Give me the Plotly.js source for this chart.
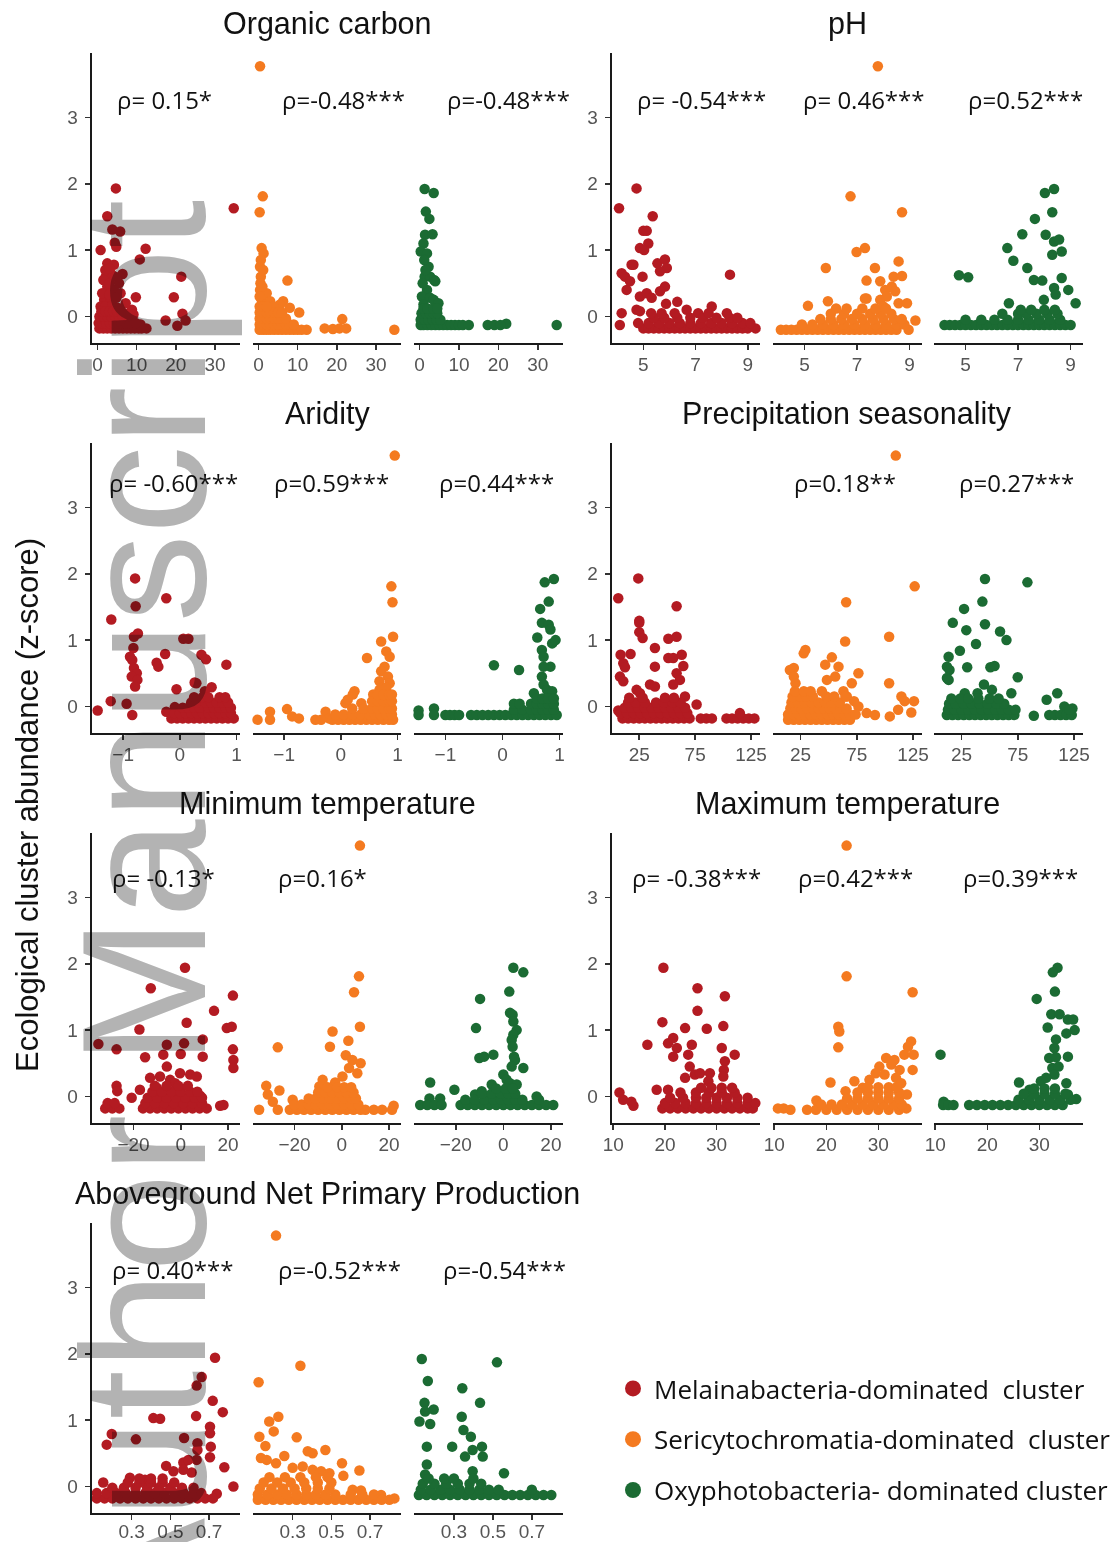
<!DOCTYPE html>
<html><head><meta charset="utf-8">
<script src="https://cdn.plot.ly/plotly-3.0.1.min.js"></script>
<style>
html,body{margin:0;padding:0;background:#fff;}
#chart{width:1116px;height:1542px;}
.svg-container > svg.main-svg:not(:first-of-type){mix-blend-mode:multiply;}
</style>
</head><body><div id="chart"></div>
<script>
// ---------------- data ----------------
const CLUSTERS = ['Melainabacteria-dominated  cluster','Sericytochromatia-dominated  cluster','Oxyphotobacteria- dominated cluster'];
const COLORS = ['#B31B22','#F47A20','#1B6B33'];
const PANEL_TITLES = ['Organic carbon','pH','Aridity','Precipitation seasonality','Minimum temperature','Maximum temperature','Aboveground Net Primary Production'];
const TICKS = [[0,10,20,30],[5,7,9],[-1,0,1],[25,75,125],[-20,0,20],[10,20,30],[0.3,0.5,0.7]];
const Y_TICKS = [0,1,2,3];
const RHO = [
 ['ρ= 0.15*','ρ=-0.48***','ρ=-0.48***'],
 ['ρ= -0.54***','ρ= 0.46***','ρ=0.52***'],
 ['ρ= -0.60***','ρ=0.59***','ρ=0.44***'],
 ['','ρ=0.18**','ρ=0.27***'],
 ['ρ= -0.13*','ρ=0.16*',''],
 ['ρ= -0.38***','ρ=0.42***','ρ=0.39***'],
 ['ρ= 0.40***','ρ=-0.52***','ρ=-0.54***']];

// Organic carbon
const OC_MEL = [[4.7,1.93],[2.5,1.51],[3.8,1.31],[5.8,1.28],[4.4,1.11],[4.8,1.05],[0.8,1.0],[12.3,1.02],[10.8,0.86],[34.8,1.63],[21.4,0.6],[9.8,0.29],[19.5,0.29],[17.4,-0.06],[21.7,0.04],[22.5,-0.06],[20.4,-0.14],[8.8,0.1],[9.2,0.03],[2.5,0.8],[4.2,0.78],[3.4,0.65],[2.1,0.6],[6.4,0.64],[5.5,0.5],[2.5,0.45],[4.2,0.4],[5.9,0.35],[1.7,0.25],[3.4,0.23],[7.2,0.2],[0.8,0.15],[5.1,0.13],[2,0.7],[3,0.72],[1.5,0.55],[3,0.5],[4.5,0.6],[1.2,0.35],[3,0.33],[2,0.15],[3.8,0.17],[4.8,0.28],[6.8,0.05],[12.5,-0.18],[11,-0.12]];
const OC_MEL_LOW = [[-0.18,[0.5,1.5,2.5,3.5,4.5,5.5,6.5,7.5,8.5,9.5,10.5,11.3]],[-0.1,[0.3,1.2,2.2,3.2,4.2,5.2,6.2,7.2,8.2,9.8]],[0,[0.5,1.5,2.5,3.5,4.5,5.5,6.5,7.5]],[0.08,[1,2,3,4,5,6]]];
const OC_SER = [[0.4,3.77],[1.1,1.81],[0.3,1.57],[0.8,1.03],[1.3,0.95],[0.4,0.75],[0.6,0.6],[7.4,0.54],[0.4,0.4],[2.1,0.35],[0.8,0.25],[3.0,0.23],[6.3,0.23],[5.5,0.18],[3.8,0.15],[8.0,0.13],[10.4,0.06],[21.4,-0.04],[34.7,-0.2],[16.9,-0.18],[19,-0.19],[20.7,-0.18],[22.4,-0.18],[12.3,-0.2],[0.5,0.5],[1.0,0.45],[0.6,0.85],[1.2,0.7],[0.3,0.3]];
const OC_SER_LOW = [[-0.2,[0.3,1.2,2.1,3,4,5,6,7,8,9,10,11]],[-0.12,[0.3,1.2,2.1,3,4,5,6,7,8,9]],[-0.03,[0.3,1.2,2.1,3,4,5,6,7]],[0.06,[0.3,1.2,2.1,3,4,5,6]],[0.15,[0.3,1.2,2.1]]];
const OC_OXY = [[1.3,1.92],[3.6,1.86],[1.6,1.58],[2.5,1.47],[1.4,1.23],[3.3,1.24],[1.0,1.1],[0.3,0.98],[1.9,0.95],[2.3,0.75],[1.3,0.6],[2.7,0.6],[3.7,0.55],[4.0,0.53],[1.9,0.4],[0.6,0.3],[2.7,0.28],[3.6,0.25],[4.8,0.2],[1.0,0.18],[1.2,0.85],[1.5,0.7],[0.8,0.5],[22,-0.11]];
const OC_OXY_LOW = [[-0.13,[0.3,1,2,3,4,5,6,7,8,9,10,11,12.5,17.3,19,20.5,34.8]],[-0.05,[0.3,1.3,2.3,3.3,4.3,5.3]],[0.05,[0.5,1.5,2.5,3.5,4.5]],[0.12,[1,2,3.5,4.5]]];

// pH
const PH_MEL = [[4.74,1.93],[4.07,1.63],[5.36,1.51],[5.0,1.29],[5.13,1.29],[5.19,1.1],[4.87,1.03],[5.03,1.0],[4.62,0.78],[4.55,0.78],[4.17,0.65],[4.3,0.6],[4.49,0.53],[4.36,0.4],[5.54,0.8],[5.83,0.86],[5.9,0.73],[5.64,0.68],[4.97,0.6],[5.83,0.45],[8.32,0.63],[4.87,0.3],[5.13,0.35],[5.32,0.28],[5.64,0.38],[6.3,0.22],[5.87,0.19],[4.17,0.05],[4.1,-0.13],[4.74,0.1],[4.87,0.08],[7.62,0.15],[6.66,0.1],[7.1,0.05]];
const PH_MEL_LOW = [[-0.18,[5.0,5.2,5.4,5.6,5.8,6.0,6.2,6.4,6.6,6.8,7.0,7.2,7.4,7.6,7.8,8.0,8.2,8.4,8.6,8.8,9.0,9.3]],[-0.1,[4.8,5.2,5.6,6.0,6.4,6.8,7.2,7.6,8.0,8.4,8.8,9.1]],[-0.02,[5.4,5.8,6.3,6.8,7.3,7.8,8.3,8.6]],[0.05,[5.3,5.7,6.2,7.5,8.2]]];
const PH_SER = [[7.79,3.77],[6.75,1.81],[8.71,1.57],[7.3,1.03],[6.98,0.97],[5.81,0.73],[7.68,0.73],[8.58,0.83],[7.36,0.54],[8.39,0.6],[8.71,0.61],[7.88,0.53],[8.07,0.4],[8.32,0.45],[8.45,0.38],[7.36,0.27],[7.3,0.27],[8.58,0.2],[8.9,0.2],[7.88,0.25],[8.0,0.15],[8.13,0.3],[5.13,0.16],[5.89,0.23],[9.22,-0.06],[8.96,-0.2]];
const PH_SER_LOW = [[-0.2,[4.1,4.3,4.5,4.7,4.9,5.1,5.3,5.5,5.7,5.9,6.1,6.3,6.5,6.7,6.9,7.1,7.3,7.5,7.7,7.9,8.1,8.3,8.5]],[-0.12,[4.9,5.3,5.7,6.1,6.5,6.9,7.3,7.7,8.1,8.5,8.8]],[-0.04,[5.6,6.0,6.4,6.8,7.2,7.6,8.0,8.4,8.7]],[0.04,[6.0,6.5,7.0,7.5,7.9,8.3]],[0.12,[6.2,6.6,7.2,7.7,8.1]]];
const PH_OXY = [[8.37,1.92],[8.02,1.86],[8.3,1.57],[7.64,1.47],[7.16,1.24],[8.05,1.23],[6.59,1.03],[8.37,1.13],[8.56,1.16],[8.3,0.93],[8.66,0.98],[6.82,0.84],[7.35,0.73],[4.75,0.62],[5.1,0.59],[7.6,0.55],[7.92,0.54],[8.66,0.58],[8.37,0.43],[8.91,0.4],[6.65,0.2],[9.19,0.2],[8.43,0.33],[7.98,0.25]];
const PH_OXY_LOW = [[-0.13,[4.2,4.4,4.6,4.8,5.0,5.2,5.4,5.6,5.8,6.0,6.2,6.4,6.6,6.8,7.0,7.2,7.4,7.6,7.8,8.0,8.2,8.4,8.6,8.8,9.0]],[-0.05,[5.0,5.6,6.1,6.6,7.0,7.4,7.8,8.2,8.6]],[0.04,[6.4,7.0,7.3,7.7,8.1,8.5]],[0.1,[7.1,7.5,8.0,8.4]]];

// Aridity
const AR_MEL = [[-0.79,1.93],[-0.78,1.51],[-0.24,1.63],[-1.21,1.31],[-0.74,1.1],[-0.81,1.05],[0.06,1.02],[0.15,1.02],[-0.82,0.88],[-0.26,0.79],[-0.88,0.75],[-0.84,0.7],[0.38,0.78],[0.46,0.71],[-0.41,0.66],[-0.38,0.6],[0.82,0.63],[-0.81,0.58],[-0.76,0.5],[-0.85,0.45],[-0.75,0.4],[-0.79,0.3],[-0.06,0.26],[0.56,0.29],[0.44,0.23],[0.29,0.35],[0.26,0.36],[-1.22,0.08],[-0.94,0.04],[-1.45,-0.06],[-0.84,-0.13],[-0.24,-0.08],[-0.09,-0.01]];
const AR_MEL_LOW = [[-0.18,[-0.15,-0.05,0.05,0.15,0.25,0.35,0.45,0.55,0.65,0.75,0.85,0.95]],[-0.1,[-0.1,0.0,0.1,0.2,0.3,0.4,0.5,0.6,0.7,0.8,0.9]],[-0.02,[0.05,0.15,0.25,0.35,0.5,0.6,0.7,0.8,0.9]],[0.06,[0.2,0.3,0.45,0.55,0.65,0.75,0.85]],[0.14,[0.25,0.4,0.5,0.7,0.8]]];
const AR_SER = [[0.95,3.78],[0.89,1.81],[0.91,1.57],[0.92,1.05],[0.71,0.98],[0.8,0.83],[0.86,0.75],[0.46,0.73],[0.77,0.6],[0.71,0.53],[0.83,0.45],[0.68,0.38],[0.86,0.35],[0.24,0.23],[0.21,0.18],[0.68,0.25],[0.57,0.18],[0.08,0.05],[0.12,0.1],[0.36,0.05],[-1.47,-0.2],[-1.25,-0.2],[-1.25,-0.08],[-0.95,-0.04],[-0.86,-0.15],[-0.74,-0.18],[-0.45,-0.2],[-0.27,-0.08],[-0.21,-0.18],[0.72,0.28],[0.8,0.28]];
const AR_SER_LOW = [[-0.2,[-0.35,-0.15,-0.05,0.05,0.15,0.25,0.35,0.45,0.55,0.65,0.75,0.85,0.92]],[-0.12,[-0.1,0.05,0.2,0.35,0.5,0.6,0.7,0.8,0.9]],[-0.03,[0.2,0.4,0.55,0.65,0.75,0.85,0.9]],[0.08,[0.55,0.65,0.75,0.85,0.9]],[0.18,[0.65,0.75,0.85,0.9]]];
const AR_OXY = [[0.9,1.92],[0.74,1.87],[0.81,1.58],[0.66,1.47],[0.69,1.26],[0.81,1.23],[0.84,1.16],[0.61,1.04],[0.87,0.95],[0.93,1.0],[0.69,0.85],[0.72,0.75],[0.84,0.6],[0.72,0.6],[-0.15,0.62],[0.29,0.55],[0.69,0.45],[0.72,0.33],[0.78,0.25],[0.55,0.2],[0.87,0.23],[-1.47,-0.06],[-1.2,-0.03]];
const AR_OXY_LOW = [[-0.13,[-1.47,-1.2,-1.0,-0.92,-0.84,-0.76,-0.55,-0.45,-0.35,-0.25,-0.15,-0.05,0.05,0.15,0.25,0.35,0.45,0.55,0.65,0.75,0.85,0.95]],[-0.05,[0.2,0.35,0.5,0.6,0.7,0.8,0.9]],[0.04,[0.2,0.3,0.5,0.6,0.7,0.8,0.9]],[0.12,[0.6,0.7,0.8,0.9]]];

// Precipitation seasonality
const PS_MEL = [[24.1,1.93],[6.2,1.63],[58.4,1.51],[25,1.29],[25,1.26],[25,1.12],[28,1.03],[51,1.02],[58.4,1.05],[8.3,0.78],[17.2,0.79],[39,0.88],[51,0.73],[55.4,0.73],[63,0.78],[10.7,0.65],[12.2,0.59],[39,0.6],[64.4,0.61],[7.7,0.45],[10.7,0.38],[34.6,0.33],[39,0.3],[58.4,0.5],[61.4,0.4],[55.4,0.33],[22.6,0.25],[25.6,0.2],[65.9,0.15],[76.3,0.03],[6.2,-0.06]];
const PS_MEL_LOW = [[-0.18,[10,15,20,25,30,35,40,45,50,55,60,65,70,80,85,90,103,108,113,118,123,128]],[-0.1,[8,14,20,26,32,38,44,50,56,62,68,115]],[-0.02,[12,18,24,30,36,42,48,54,60,66]],[0.06,[15,22,30,40,47,55,62]],[0.13,[16,28,48,56]]];
const PS_SER = [[109.7,3.78],[126.5,1.81],[65.6,1.57],[103.8,1.05],[64.7,0.98],[27.9,0.8],[29.4,0.85],[15.6,0.55],[19.1,0.58],[52.9,0.74],[47,0.63],[58.8,0.6],[55.9,0.45],[76.5,0.5],[70.6,0.35],[48.5,0.4],[19.1,0.45],[20.6,0.35],[103.8,0.35],[114.7,0.15],[117.6,0.08],[125.9,0.08],[111.8,-0.05],[123.5,-0.09],[104.4,-0.15],[83.8,-0.1],[91.2,-0.13],[63.2,0.23],[66.2,0.15],[76.5,0],[72.6,0.08]];
const PS_SER_LOW = [[-0.2,[14,19,24,29,34,39,44,49,54,59,64,69]],[-0.12,[14,19,24,29,34,39,44,49,54,59,64,69,74]],[-0.03,[16,21,26,31,36,41,46,51,56,61,66]],[0.06,[17,23,29,35,41,47,53,60]],[0.15,[18,25,30,36,48,55,65]],[0.23,[20,28,34,44]]];
const PS_OXY = [[45.9,1.92],[83.6,1.87],[43.6,1.58],[27.3,1.47],[17.3,1.26],[45.9,1.24],[29.3,1.15],[59.3,1.13],[65,1.0],[23.6,0.84],[37.9,0.94],[13.6,0.75],[12.1,0.6],[30.1,0.59],[50.7,0.59],[54.4,0.61],[14.4,0.55],[12.1,0.43],[13.6,0.4],[75,0.44],[45,0.33],[52.1,0.25],[69.3,0.2],[39.3,0.2],[27.9,0.2],[100.7,0.1],[110.1,0.2],[89.3,-0.14],[116.4,0],[123.6,-0.03]];
const PS_OXY_LOW = [[-0.13,[12,17,22,27,32,37,42,47,52,57,62,67,72,103,108,113,118,123]],[-0.05,[13,19,25,31,37,43,49,55,61,67,73,121]],[0.04,[14,20,27,34,41,48,56,63]],[0.12,[16,24,31,40,50,58]]];

// Minimum temperature
const MN_MEL = [[1.8,1.94],[-12.7,1.63],[22.1,1.52],[14.1,1.29],[-17.5,1.01],[2.5,1.11],[19.5,1.03],[21.6,1.05],[-34.9,0.79],[-27.2,0.71],[-5.9,0.78],[1.4,0.8],[9.3,0.86],[-15.1,0.59],[-7.4,0.63],[0,0.64],[9.3,0.6],[22.1,0.71],[22.3,0.55],[22.3,0.43],[-5.9,0.45],[-4.5,0.25],[-8.8,0.3],[-13,0.28],[-0.3,0.35],[4,0.33],[6.8,0.3],[-2.4,0.2],[-27.2,0.16],[-26.9,0.08],[-20.8,-0.02],[8.2,0.01],[-17.3,0.1],[-10.2,0.13],[16.7,-0.14],[18.1,-0.13]];
const MN_MEL_LOW = [[-0.18,[-32,-29,-26,-16,-13,-10,-7,-4,-1,2,5,8,11]],[-0.1,[-31,-28,-15,-11,-7,-3,1,5,9]],[-0.02,[-14,-10,-6,-2,2,6,9]],[0.07,[-12,-8,-4,0,4,7]],[0.16,[-11,-6,-1,3]]];
const MN_SER = [[7.7,3.78],[7.3,1.81],[5.2,1.57],[7.7,1.05],[-27.1,0.74],[-3.9,0.98],[-5,0.75],[2.8,0.84],[1.7,0.62],[4.5,0.55],[8,0.5],[3.1,0.43],[6.6,0.35],[0.3,0.3],[-2.8,0.21],[-8.1,0.25],[-9.5,0.15],[-32,0.16],[-26.4,0.09],[-31.3,0.03],[-35,-0.2],[-27.1,-0.2],[-29.2,-0.08],[-20.8,-0.05],[13.6,-0.2],[17.1,-0.2],[21.3,-0.2],[22,-0.14]];
const MN_SER_LOW = [[-0.2,[-22,-19,-16,-13,-10,-7,-4,-1,2,5,8,10]],[-0.12,[-20,-17,-14,-11,-8,-5,-2,1,4,7]],[-0.03,[-14,-11,-8,-5,-2,1,4,6]],[0.06,[-10,-7,-4,-1,2,5]],[0.14,[-6,-2,1,4]]];
const MN_OXY = [[4.2,1.94],[8.4,1.87],[2.5,1.58],[-9.8,1.47],[2.8,1.26],[3.9,1.23],[4.2,1.13],[-11.5,1.03],[5.6,1.0],[4.2,0.93],[3.5,0.85],[3.9,0.75],[4.5,0.6],[4.9,0.55],[-10.1,0.58],[-8.1,0.6],[-4.2,0.63],[8.4,0.43],[3.5,0.45],[-30.8,0.21],[-20.6,0.1],[-4.9,0.18],[-9.1,0.08],[0,0.33],[1.4,0.25],[2.8,0.2],[5.6,0.18],[-11.9,0.03],[14,0],[-31.1,-0.03],[-26.6,-0.03]];
const MN_OXY_LOW = [[-0.13,[-35,-32,-29,-26,-18,-15,-12,-9,-6,-3,0,3,6,9,12,15,18,21]],[-0.05,[-16,-12,-8,-4,-1,2,5,8,15]],[0.04,[-9,-5,-1,2,5]],[0.12,[-3,1,4]]];

// Maximum temperature
const MX_MEL = [[19.7,1.94],[26.3,1.63],[31.6,1.51],[26.3,1.29],[19.5,1.12],[23.9,1.03],[28.1,1.02],[31.3,1.06],[16.6,0.78],[20.6,0.8],[21.6,0.88],[22.3,0.73],[25.2,0.78],[24.5,0.63],[31,0.73],[21.6,0.6],[33.5,0.63],[31.6,0.53],[24.8,0.45],[31.4,0.4],[31.3,0.3],[25.8,0.33],[26.8,0.35],[28.7,0.35],[23.9,0.28],[18.4,0.1],[20.6,0.1],[28.4,0.23],[11.2,0.06],[11.9,-0.05],[13.5,-0.08],[13.9,-0.14]];
const MX_MEL_LOW = [[-0.18,[19.5,21,22.5,24,25.5,27,28.5,30,31.5,33,34.5,36,37]],[-0.1,[20,22,24,26,28,30,32,34,36,37.5]],[-0.02,[21,23.5,26,28,30,32,34,36]],[0.06,[23,26,28.5,31,33.5]],[0.13,[27,29,31,33]]];
const MX_SER = [[23.9,3.78],[23.9,1.81],[36.6,1.57],[22.3,1.05],[22.5,0.98],[22.3,0.74],[36.3,0.83],[35.7,0.75],[35,0.63],[36.8,0.63],[36.6,0.4],[31.5,0.58],[33.1,0.55],[30.2,0.45],[32.5,0.48],[34.1,0.4],[29.5,0.35],[31.2,0.33],[33.4,0.28],[34.4,0.2],[20.8,0.21],[25.4,0.23],[27,0.13],[28.3,0.25],[23.7,0.08],[18.1,-0.06],[35.5,0.03],[35.4,-0.18],[10.7,-0.18],[11.8,-0.18],[13.1,-0.2],[16.3,-0.2]];
const MX_SER_LOW = [[-0.2,[18,20,22,24,26,28,30,32,34]],[-0.12,[19,21,23,25,27,29,31,33,34.5]],[-0.03,[24,26,28,30,32,34]],[0.06,[26,28,30,32,34]],[0.14,[28,30,32,33.5]]];
const MX_OXY = [[33.5,1.94],[32.6,1.87],[33,1.58],[29.5,1.47],[32.3,1.24],[33.9,1.24],[35.5,1.16],[36.5,1.16],[36.8,1.0],[35.2,0.95],[31.6,1.04],[33.2,0.86],[32.9,0.73],[31.9,0.58],[33.2,0.59],[35.5,0.6],[11,0.63],[32.5,0.43],[33.7,0.45],[32.9,0.33],[26.1,0.21],[30.3,0.23],[31.3,0.28],[35.2,0.2],[28.1,0.1],[11.6,-0.08],[37.1,-0.04],[35.5,0.03]];
const MX_OXY_LOW = [[-0.13,[11.5,12.5,13.5,16.5,18,19.5,21,22.5,24,25.5,27,28.5,30,31.5,33,34.5]],[-0.05,[26,28,30,32,34,36]],[0.04,[27,29,31,33,35]],[0.12,[29,31,33]]];

// Aboveground net primary production
const NP_MEL = [[0.731,1.94],[0.662,1.65],[0.636,1.52],[0.719,1.29],[0.633,1.06],[0.771,1.12],[0.412,1.03],[0.447,1.02],[0.197,0.79],[0.171,0.63],[0.322,0.71],[0.571,0.73],[0.705,0.9],[0.705,0.8],[0.709,0.6],[0.705,0.44],[0.64,0.65],[0.64,0.55],[0.567,0.36],[0.593,0.4],[0.636,0.4],[0.779,0.29],[0.478,0.31],[0.516,0.23],[0.826,0.0],[0.74,-0.11],[0.153,0.06],[0.291,0.13],[0.369,0.1],[0.567,0.25],[0.61,0.21]];
const NP_MEL_LOW = [[-0.18,[0.12,0.16,0.2,0.24,0.28,0.32,0.36,0.4,0.44,0.48,0.52,0.56,0.6,0.64,0.68,0.72]],[-0.1,[0.12,0.17,0.22,0.27,0.32,0.37,0.42,0.47,0.52,0.57,0.62,0.66]],[-0.02,[0.2,0.26,0.32,0.38,0.44,0.5,0.56,0.62]],[0.06,[0.28,0.34,0.4,0.46,0.52]],[0.12,[0.34,0.4,0.46]]];
const NP_SER = [[0.214,3.78],[0.34,1.82],[0.124,1.57],[0.226,1.05],[0.179,0.98],[0.202,0.83],[0.128,0.75],[0.159,0.61],[0.321,0.74],[0.378,0.53],[0.403,0.5],[0.469,0.55],[0.257,0.46],[0.136,0.43],[0.166,0.4],[0.214,0.35],[0.555,0.35],[0.645,0.24],[0.562,0.16],[0.3,0.28],[0.352,0.3],[0.403,0.25],[0.447,0.23],[0.49,0.2],[0.61,-0.05],[0.653,-0.06],[0.757,-0.13],[0.826,-0.18]];
const NP_SER_LOW = [[-0.2,[0.12,0.16,0.2,0.24,0.28,0.32,0.36,0.4,0.44,0.48,0.52,0.56,0.6,0.64,0.68,0.72,0.76,0.8]],[-0.12,[0.12,0.17,0.22,0.27,0.32,0.37,0.42,0.47,0.52,0.6,0.66,0.72]],[-0.03,[0.13,0.19,0.25,0.31,0.37,0.43,0.49]],[0.06,[0.15,0.22,0.29,0.36,0.43,0.5]],[0.14,[0.18,0.26,0.34,0.42,0.48]]];
const NP_OXY = [[0.135,1.92],[0.521,1.87],[0.166,1.59],[0.343,1.48],[0.434,1.26],[0.149,1.26],[0.196,1.16],[0.152,1.13],[0.123,0.98],[0.178,0.94],[0.34,1.05],[0.349,0.85],[0.387,0.75],[0.396,0.55],[0.444,0.6],[0.448,0.45],[0.357,0.45],[0.161,0.6],[0.291,0.6],[0.161,0.33],[0.152,0.18],[0.557,0.2],[0.396,0.23]];
const NP_OXY_LOW = [[-0.13,[0.12,0.16,0.2,0.24,0.28,0.32,0.36,0.4,0.44,0.48,0.52,0.56,0.6,0.64,0.68,0.72,0.76,0.8]],[-0.05,[0.13,0.18,0.23,0.28,0.33,0.38,0.43,0.48,0.53,0.7]],[0.04,[0.14,0.2,0.26,0.32,0.38,0.44]],[0.12,[0.17,0.25,0.3,0.4]]];

// ---------------- assembly ----------------
function merge(pts, rows){ const out = pts.slice(); rows.forEach(r => r[1].forEach(x => out.push([x, r[0]]))); return out; }
const SERIES = [
 [merge(OC_MEL,OC_MEL_LOW), merge(OC_SER,OC_SER_LOW), merge(OC_OXY,OC_OXY_LOW)],
 [merge(PH_MEL,PH_MEL_LOW), merge(PH_SER,PH_SER_LOW), merge(PH_OXY,PH_OXY_LOW)],
 [merge(AR_MEL,AR_MEL_LOW), merge(AR_SER,AR_SER_LOW), merge(AR_OXY,AR_OXY_LOW)],
 [merge(PS_MEL,PS_MEL_LOW), merge(PS_SER,PS_SER_LOW), merge(PS_OXY,PS_OXY_LOW)],
 [merge(MN_MEL,MN_MEL_LOW), merge(MN_SER,MN_SER_LOW), merge(MN_OXY,MN_OXY_LOW)],
 [merge(MX_MEL,MX_MEL_LOW), merge(MX_SER,MX_SER_LOW), merge(MX_OXY,MX_OXY_LOW)],
 [merge(NP_MEL,NP_MEL_LOW), merge(NP_SER,NP_SER_LOW), merge(NP_OXY,NP_OXY_LOW)]];

// ---------------- geometry / style ----------------
const W = 1116, H = 1542;
const fx = p => p / W, fy = p => 1 - p / H;
const SUB_X = [[[92,240],[253,401],[414,563]], [[612,760],[773,922],[934,1083]]];
const ROW_Y = [[53,343],[443,733],[833,1123],[1223,1513]];
const X_RANGES = [[-1.4,36.4],[3.8,9.47],[-1.55,1.06],[0.6,133],[-37.6,25.1],[9.75,38.4],[0.095,0.86]];
const Y_RANGE = [-0.40, 3.97];
const TITLE_POS = [[327,24],[847,24],[327,414],[847,414],[327,803],[847,803],[327,1193]];
const RHO_X = [[115,280,445],[635,801,966],[107,272,437],[0,792,957],[110,276,0],[630,796,961],[110,276,441]];
const RHO_Y = [100,482,877,1269];
const TXT = 'Liberation Sans, Arial, sans-serif';

const traces = [], layout = {
  width: W, height: H, margin: {l:0, r:0, t:0, b:0},
  paper_bgcolor: '#fff', plot_bgcolor: 'rgba(0,0,0,0)',
  showlegend: true, annotations: [], font: {family: TXT}
};

// watermark first, so every other text is drawn over it
layout.annotations.push({text: 'Author Manuscript', xref: 'paper', yref: 'paper', x: fx(144), y: fy(918),
  xanchor: 'center', yanchor: 'middle', textangle: -90, showarrow: false, font: {family: TXT, size: 177, color: '#b3b3b3'}});

for (let p = 0; p < 7; p++) {
  const col = p % 2, row = Math.floor(p / 2);
  for (let j = 0; j < 3; j++) {
    const k = p * 3 + j + 1;
    const xa = k === 1 ? 'xaxis' : 'xaxis' + k, ya = k === 1 ? 'yaxis' : 'yaxis' + k;
    const xr = k === 1 ? 'x' : 'x' + k, yr = k === 1 ? 'y' : 'y' + k;
    const [x0, x1] = SUB_X[col][j], [y0, y1] = ROW_Y[row];
    layout[xa] = {domain: [fx(x0), fx(x1)], anchor: yr, range: X_RANGES[p], tickmode: 'array', tickvals: TICKS[p],
      showline: true, linecolor: '#1a1a1a', linewidth: 2.4, ticks: 'outside', ticklen: 5, tickwidth: 1.6, tickcolor: '#333',
      tickfont: {family: TXT, size: 19, color: '#555'}, showgrid: false, zeroline: false, fixedrange: true,
      ticklabelstandoff: row === 3 ? -5 : -2};
    layout[ya] = {domain: [fy(y1), fy(y0)], anchor: xr, range: Y_RANGE, tickmode: 'array', tickvals: Y_TICKS,
      showline: j === 0, linecolor: '#1a1a1a', linewidth: 2.4, ticks: j === 0 ? 'outside' : '', ticklen: 5, tickwidth: 1.6, tickcolor: '#333',
      showticklabels: j === 0, tickfont: {family: TXT, size: 19, color: '#555'}, showgrid: false, zeroline: false, fixedrange: true, ticklabelstandoff: 3};
    const pts = SERIES[p][j];
    traces.push({type: 'scatter', mode: 'markers', x: pts.map(d => d[0]), y: pts.map(d => d[1]), xaxis: xr, yaxis: yr,
      marker: {size: 10.5, color: COLORS[j], line: {width: 0}}, showlegend: false, hoverinfo: 'skip', cliponaxis: false});
    if (RHO[p][j]) layout.annotations.push({text: RHO[p][j], xref: 'paper', yref: 'paper', x: fx(RHO_X[p][j]), y: fy(RHO_Y[row]),
      xanchor: 'left', yanchor: 'middle', showarrow: false, font: {family: 'Open Sans, sans-serif', size: 24, color: '#111'}});
  }
  layout.annotations.push({text: PANEL_TITLES[p], xref: 'paper', yref: 'paper', x: fx(TITLE_POS[p][0]), y: fy(TITLE_POS[p][1]),
    xanchor: 'center', yanchor: 'middle', showarrow: false, font: {family: TXT, size: 30.5, color: '#111'}});
}

// legend entries
CLUSTERS.forEach((name, j) => traces.push({type: 'scatter', mode: 'markers', x: [null], y: [null], xaxis: 'x', yaxis: 'y',
  name: name, legendgroup: 'g' + j, marker: {size: 20, color: COLORS[j]}, showlegend: true, hoverinfo: 'skip'}));
layout.legend = {x: fx(612), y: fy(1365), xanchor: 'left', yanchor: 'top', bgcolor: 'rgba(0,0,0,0)',
  font: {family: 'Open Sans, sans-serif', size: 26, color: '#111'}, tracegroupgap: 14, itemsizing: 'trace', itemwidth: 32, itemclick: false, itemdoubleclick: false};

// y axis title
layout.annotations.push({text: 'Ecological cluster abundance (z-score)', xref: 'paper', yref: 'paper', x: fx(27), y: fy(805),
  xanchor: 'center', yanchor: 'middle', textangle: -90, showarrow: false, font: {family: TXT, size: 31, color: '#111'}});

Plotly.newPlot('chart', traces, layout, {displayModeBar: false, staticPlot: true});
</script></body></html>
